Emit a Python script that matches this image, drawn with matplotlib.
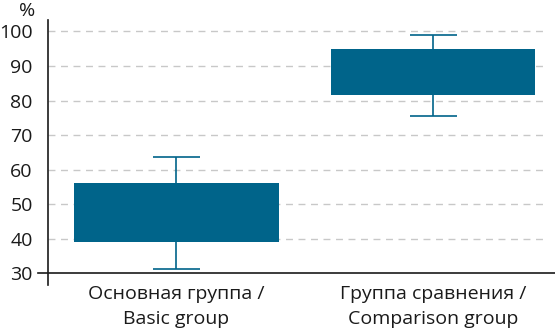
import matplotlib
matplotlib.use("Agg")
import matplotlib.pyplot as plt
import matplotlib.transforms as mtransforms

categories = ["Основная группа /\nBasic group", "Группа сравнения /\nComparison group"]
q1 = [39.1, 81.6]
q3 = [56.0, 94.9]
whisker_low = [31.2, 75.4]
whisker_high = [63.6, 99.1]
yticks = [30, 40, 50, 60, 70, 80, 90, 100]

color = "#00648a"
text_color = "#1a1a1a"
plt.rcParams['font.family'] = ['Open Sans', 'DejaVu Sans']

fig = plt.figure(figsize=(5.55, 3.31), dpi=100)
ax = fig.add_axes([48 / 555, 46 / 331, 1 - 48 / 555, 265 / 331])
ax.set_xlim(-0.5, 1.473)
ax.set_ylim(26.6, 103.3)

x = list(range(len(categories)))

# grid lines
for v in yticks[1:]:
    ax.hlines(v, -0.5, 1.431, colors="#c8c8c8", linewidth=1.0,
              linestyles=(0, (5, 4)), zorder=0)

# whiskers
ax.vlines(x, whisker_low, whisker_high, colors=color, linewidth=1.2, zorder=2)
ax.hlines(whisker_low, [i - 0.09 for i in x], [i + 0.09 for i in x], colors=color, linewidth=1.2, zorder=2)
ax.hlines(whisker_high, [i - 0.09 for i in x], [i + 0.09 for i in x], colors=color, linewidth=1.2, zorder=2)

# boxes
ax.bar(x, [b - a for a, b in zip(q1, q3)], bottom=q1, width=0.794, color=color, zorder=3)

# axes styling
for s in ["top", "right", "bottom"]:
    ax.spines[s].set_visible(False)
ax.spines["left"].set_color(text_color)
ax.spines["left"].set_linewidth(1.2)

# baseline at 30 extending left of the spine
trans = mtransforms.blended_transform_factory(ax.transAxes, ax.transData)
ax.plot([-10 / 507, 1.0], [30, 30], transform=trans, color=text_color, linewidth=1.2,
        clip_on=False, zorder=4)

ax.set_yticks(yticks)
ax.set_yticklabels([str(v) for v in yticks], fontsize=14, color=text_color)
ax.tick_params(axis="y", length=0, pad=11)
ax.set_xticks(x)
ax.set_xticklabels(categories, fontsize=14, color=text_color, linespacing=1.5)
ax.tick_params(axis="x", length=0, pad=0)

fig.text(27 / 555, 1 - 11 / 331, "%", ha="center", va="center", fontsize=14, color=text_color)

fig.savefig("out.png", dpi=100)
